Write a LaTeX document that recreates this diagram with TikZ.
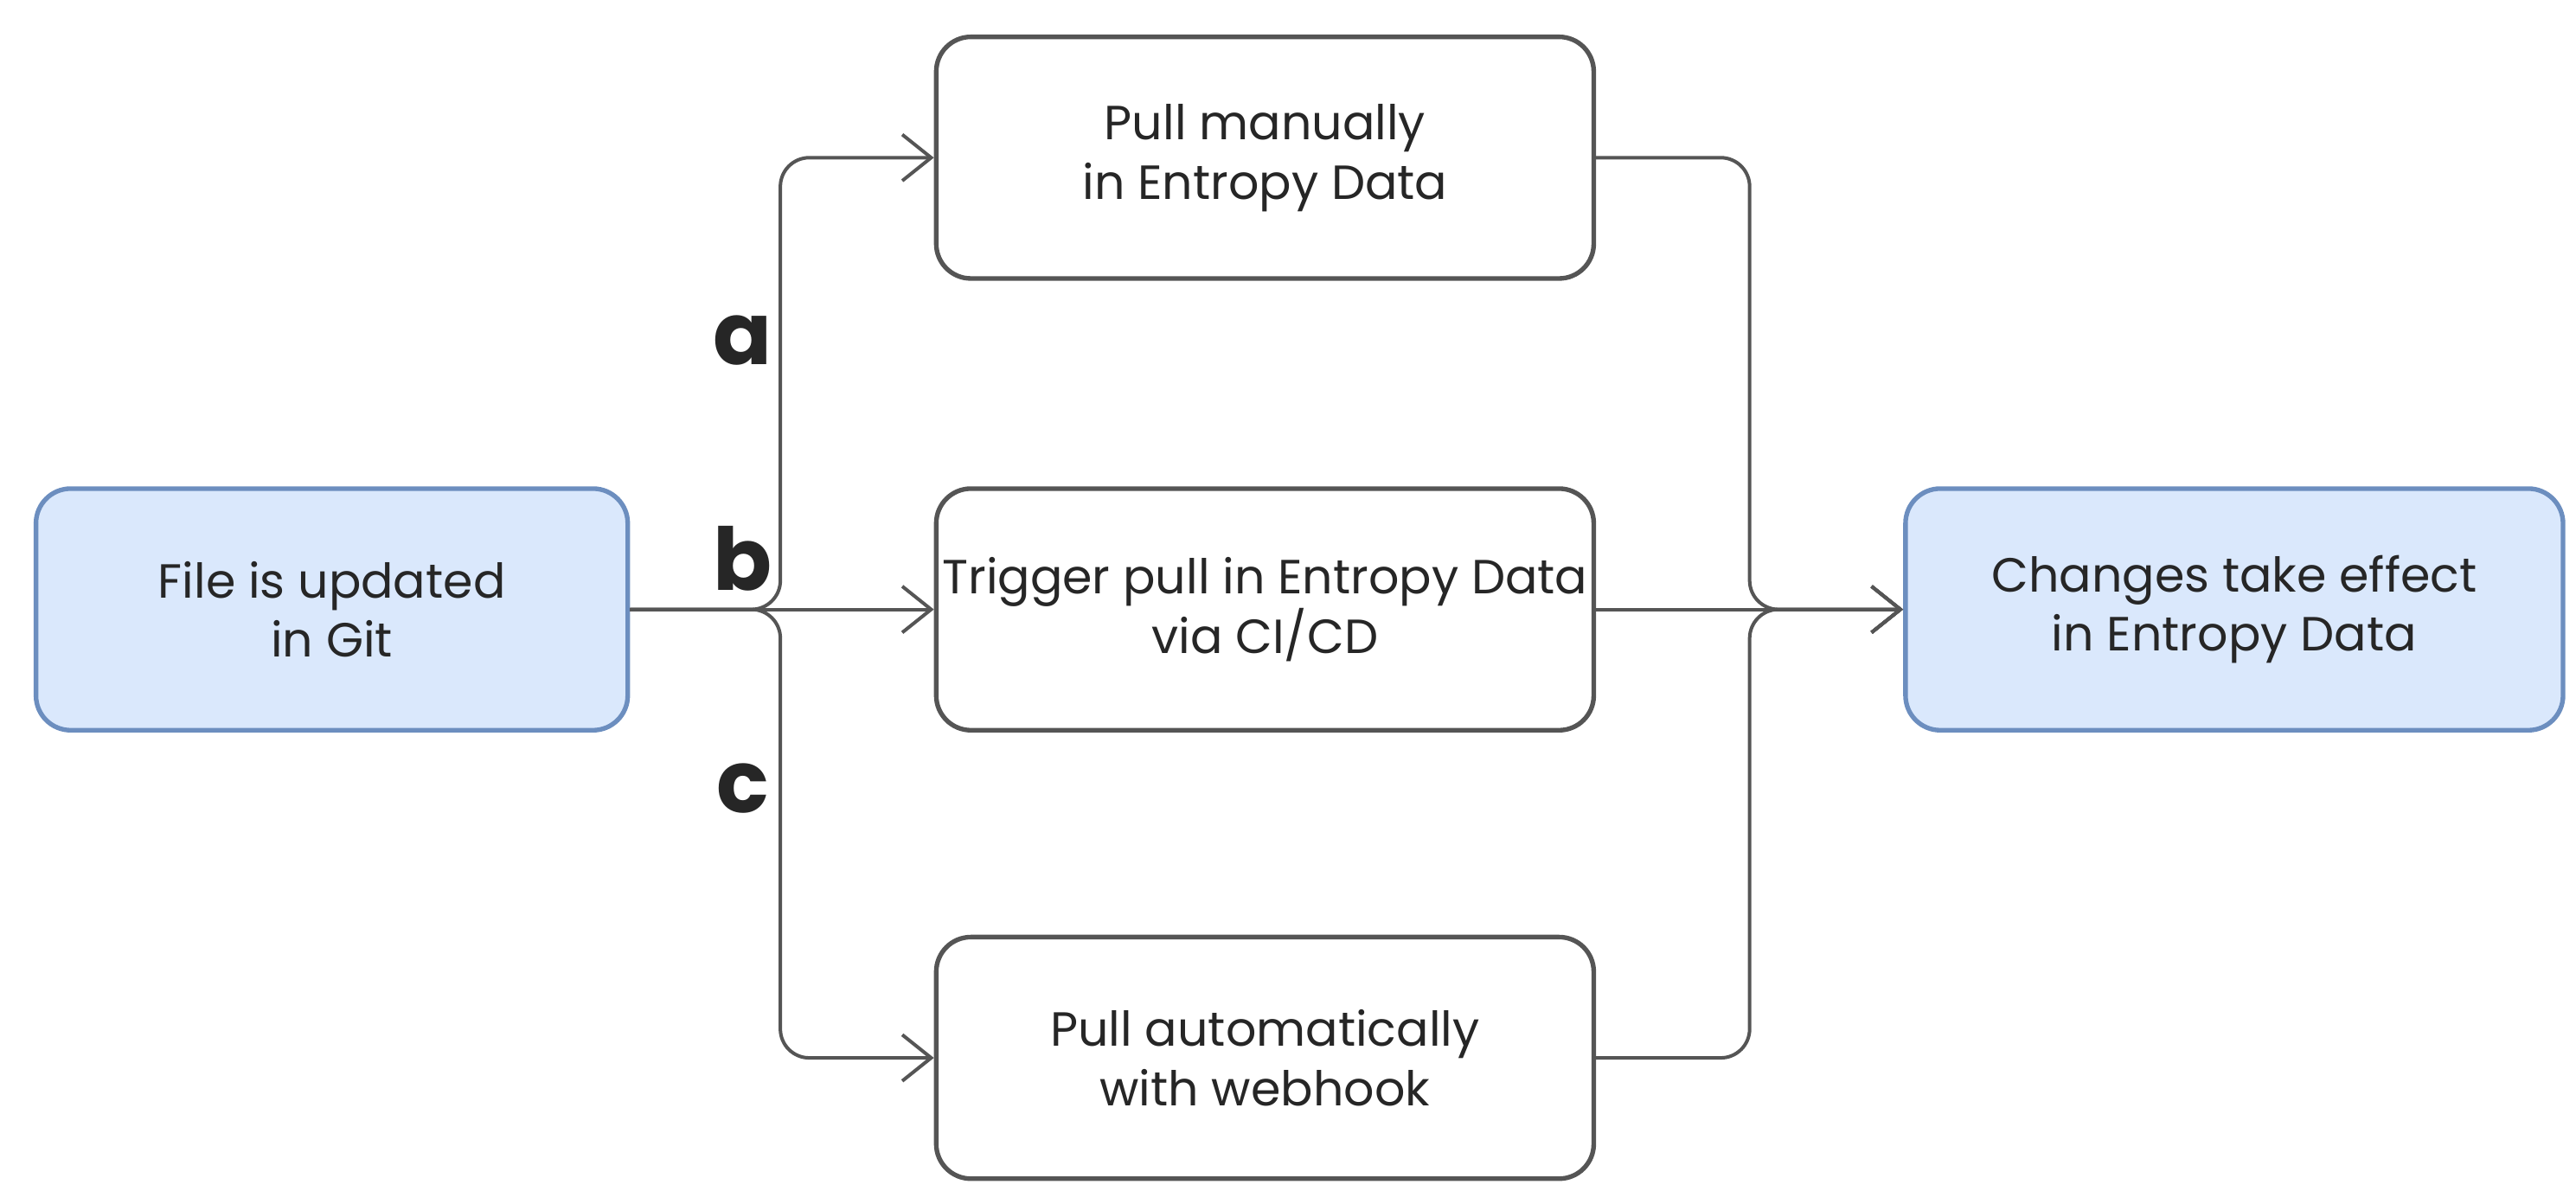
\documentclass[tikz,border=0pt]{standalone}
\usepackage{fontspec}
\setmainfont{Poppins}
\usetikzlibrary{arrows.meta}
\definecolor{edgegray}{HTML}{555555}
\definecolor{bluefill}{HTML}{DAE8FC}
\definecolor{blueline}{HTML}{6C8EBF}
\begin{document}
\begin{tikzpicture}[x=0.01cm,y=-0.01cm,
    task/.style = {rectangle,draw=edgegray,thick,rounded corners=6pt,minimum width=4cm,minimum height=1.47cm,inner xsep=1pt,align=center,font=\fontsize{8.3}{10.3}\selectfont,text=black!85},
    state/.style = {task,draw=blueline,fill=bluefill,minimum width=3.6cm},
    flow/.style = {draw=edgegray,semithick,rounded corners=5pt,-{Straight Barb[length=5pt,width=8pt]}},
    tag/.style = {font=\fontsize{15}{15}\selectfont\bfseries,text=black!85}]
    \useasboundingbox (0,0) rectangle (1568,725);
    \node[state] (git) at (202,371) {File is updated\\in Git};
    \node[task] (manual) at (770,96) {Pull manually\\in Entropy Data};
    \node[task] (cicd) at (770,371) {Trigger pull in Entropy Data\\via CI/CD};
    \node[task] (hook) at (770,644) {Pull automatically\\with webhook};
    \node[state,minimum width=4cm] (effect) at (1360,371) {Changes take effect\\in Entropy Data};
    \coordinate (fork) at (475,371);
    \coordinate (join) at (1065,371);
    \draw[flow] (git.east) -- (fork) |- (manual.west);
    \draw[flow] (git.east) -- (cicd.west);
    \draw[flow] (git.east) -- (fork) |- (hook.west);
    \draw[flow] (manual.east) -| (join) -- (effect.west);
    \draw[flow] (cicd.east) -- (effect.west);
    \draw[flow] (hook.east) -| (join) -- (effect.west);
    \node[tag] (a) at (452,207) {a};
    \node[tag] (b) at (452,340) {b};
    \node[tag] (c) at (452,480) {c};
\end{tikzpicture}
\end{document}
